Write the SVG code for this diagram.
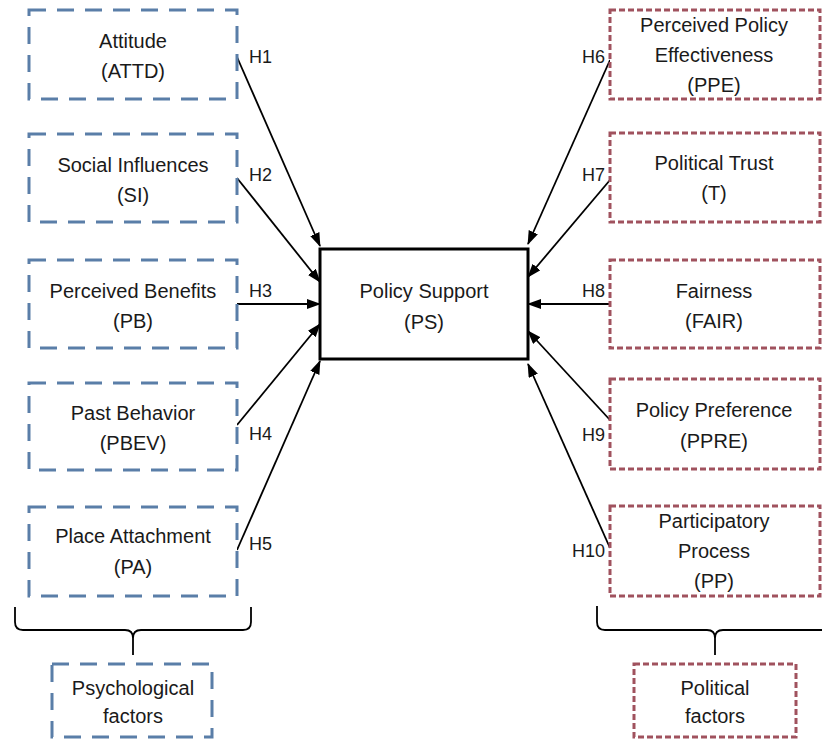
<svg xmlns="http://www.w3.org/2000/svg" width="822" height="740" viewBox="0 0 822 740">
<style>
text{font-family:"Liberation Sans",Arial,sans-serif;font-size:20px;fill:#1a1a1a;text-anchor:middle}
.lbl{font-size:18px}
.lr{font-size:18px;text-anchor:end}
.ll{font-size:18px;text-anchor:start}
.blue{fill:#fff;stroke:#5a7ea8;stroke-width:3;stroke-dasharray:17 11}
.red{fill:#fff;stroke:#a0525e;stroke-width:3;stroke-dasharray:6 3}
.conn{stroke:#000;stroke-width:1.8;fill:none;marker-end:url(#arr)}
.brace{stroke:#000;stroke-width:1.8;fill:none}
</style>
<defs>
<marker id="arr" markerUnits="userSpaceOnUse" markerWidth="14" markerHeight="12" refX="13" refY="5" orient="auto">
<path d="M0,0 L14,5 L0,10 Z" fill="#000"/>
</marker>
</defs>
<rect width="822" height="740" fill="#fff"/>
<g id="connectors">
<line class="conn" x1="237" y1="57" x2="320" y2="246"/>
<line class="conn" x1="237" y1="178" x2="320" y2="282"/>
<line class="conn" x1="237" y1="304" x2="320" y2="304"/>
<line class="conn" x1="237" y1="425" x2="320" y2="324"/>
<line class="conn" x1="237" y1="550" x2="320" y2="361"/>
<line class="conn" x1="610" y1="60" x2="528" y2="244"/>
<line class="conn" x1="610" y1="180" x2="528" y2="277"/>
<line class="conn" x1="610" y1="304" x2="528" y2="304"/>
<line class="conn" x1="610" y1="420" x2="528" y2="331"/>
<line class="conn" x1="610" y1="548" x2="528" y2="364"/>
<text class="ll" x="249" y="63">H1</text>
<text class="ll" x="249" y="181">H2</text>
<text class="ll" x="249" y="297">H3</text>
<text class="ll" x="249" y="440">H4</text>
<text class="ll" x="249" y="550">H5</text>
<text class="lr" x="605" y="63">H6</text>
<text class="lr" x="605" y="181">H7</text>
<text class="lr" x="605" y="297">H8</text>
<text class="lr" x="605" y="441">H9</text>
<text class="lr" x="605" y="557">H10</text>
<path class="brace" d="M15,607 L15,622 Q15,630 23,630 L125,630 Q133,630 133,638 L133,655 M133,638 Q133,630 141,630 L243,630 Q251,630 251,622 L251,607"/>
<path class="brace" d="M597,606 L597,622 Q597,630 605,630 L707,630 Q715,630 715,638 L715,655 M715,638 Q715,630 723,630 L830,630"/>
</g>
<g id="ps">
<rect x="320" y="249" width="208" height="110" fill="#fff" stroke="#000" stroke-width="3"/>
<text x="424" y="298">Policy Support</text>
<text x="424" y="329">(PS)</text>
</g>
<g id="attd">
<rect class="blue" x="29" y="10" width="208" height="89"/>
<text x="133" y="48">Attitude</text>
<text x="133" y="78">(ATTD)</text>
</g>
<g id="si">
<rect class="blue" x="29" y="134" width="208" height="88"/>
<text x="133" y="172">Social Influences</text>
<text x="133" y="202">(SI)</text>
</g>
<g id="pb">
<rect class="blue" x="29" y="260" width="208" height="88"/>
<text x="133" y="298">Perceived Benefits</text>
<text x="133" y="328">(PB)</text>
</g>
<g id="pbev">
<rect class="blue" x="29" y="383" width="208" height="87"/>
<text x="133" y="420">Past Behavior</text>
<text x="133" y="450">(PBEV)</text>
</g>
<g id="pa">
<rect class="blue" x="29" y="507" width="208" height="89"/>
<text x="133" y="543">Place Attachment</text>
<text x="133" y="574">(PA)</text>
</g>
<g id="ppe">
<rect class="red" x="610" y="10" width="210" height="89"/>
<text x="714" y="32">Perceived Policy</text>
<text x="714" y="62">Effectiveness</text>
<text x="714" y="92">(PPE)</text>
</g>
<g id="t">
<rect class="red" x="610" y="133" width="210" height="89"/>
<text x="714" y="170">Political Trust</text>
<text x="714" y="200">(T)</text>
</g>
<g id="fair">
<rect class="red" x="610" y="260" width="210" height="88"/>
<text x="714" y="298">Fairness</text>
<text x="714" y="328">(FAIR)</text>
</g>
<g id="ppre">
<rect class="red" x="610" y="379" width="210" height="90"/>
<text x="714" y="417">Policy Preference</text>
<text x="714" y="448">(PPRE)</text>
</g>
<g id="pp">
<rect class="red" x="610" y="506" width="210" height="90"/>
<text x="714" y="528">Participatory</text>
<text x="714" y="558">Process</text>
<text x="714" y="588">(PP)</text>
</g>
<g id="psych">
<rect class="blue" x="52" y="664" width="160" height="73"/>
<text x="133" y="695">Psychological</text>
<text x="133" y="723">factors</text>
</g>
<g id="polit">
<rect class="red" x="634" y="664" width="162" height="73"/>
<text x="715" y="695">Political</text>
<text x="715" y="723">factors</text>
</g>
</svg>
